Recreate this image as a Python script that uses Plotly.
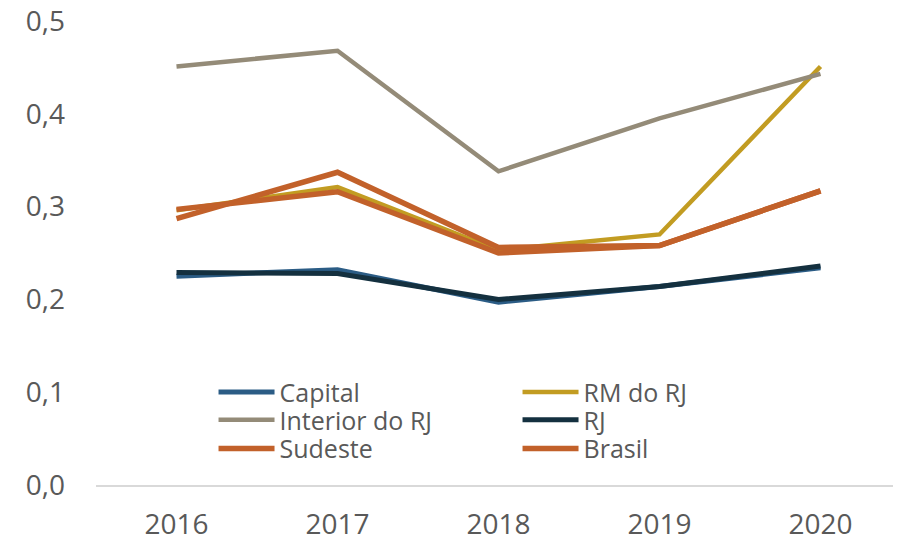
import plotly.graph_objects as go

years = ["2016", "2017", "2018", "2019", "2020"]
capital = [0.225, 0.232, 0.197, 0.214, 0.234]
rm_rj = [0.296, 0.321, 0.253, 0.270, 0.451]
interior = [0.451, 0.468, 0.338, 0.395, 0.443]
rj = [0.229, 0.228, 0.200, 0.214, 0.236]
sudeste = [0.287, 0.337, 0.256, 0.258, 0.317]
brasil = [0.297, 0.316, 0.250, 0.258, 0.317]
y_ticks = [0.0, 0.1, 0.2, 0.3, 0.4, 0.5]
y_tick_labels = ["0,0", "0,1", "0,2", "0,3", "0,4", "0,5"]

series = [
    ("Capital", capital, "#2B5C85", 5, "legend"),
    ("RM do RJ", rm_rj, "#C29C22", 4.5, "legend"),
    ("Interior do RJ", interior, "#948B78", 4.5, "legend2"),
    ("RJ", rj, "#14303F", 5, "legend2"),
    ("Sudeste", sudeste, "#C2612A", 5.5, "legend3"),
    ("Brasil", brasil, "#C2612A", 5.5, "legend3"),
]

fig = go.Figure()
for name, vals, color, w, lg in series:
    fig.add_trace(go.Scatter(x=years, y=vals, name=name, mode="lines",
                             line=dict(color=color, width=w), legend=lg))

font_family = "'Open Sans', sans-serif"
TXT = "#595959"


def leg(yc):
    return dict(orientation="h", x=0.146, y=yc, xanchor="left", yanchor="middle",
                entrywidth=233, entrywidthmode="pixels", itemwidth=56,
                font=dict(size=25, color=TXT, family=font_family),
                bgcolor="rgba(0,0,0,0)", traceorder="normal", borderwidth=0)


fig.update_layout(
    width=901, height=540,
    margin=dict(l=88, r=8, t=13, b=63),
    paper_bgcolor="white", plot_bgcolor="white",
    font=dict(family=font_family, color=TXT),
    showlegend=True,
    legend=leg(0.200),
    legend2=leg(0.140),
    legend3=leg(0.078),
    xaxis=dict(type="category", range=[-0.5, 4.5], showgrid=False, showline=True,
               linecolor="#D9D9D9", linewidth=1.5, ticks="",
               tickfont=dict(size=28, color=TXT), ticklabelstandoff=14,
               zeroline=False, automargin=False, ticklabeloverflow="allow"),
    yaxis=dict(range=[0, 0.5], tickvals=y_ticks, ticktext=y_tick_labels,
               showgrid=False, showline=False, zeroline=False, ticks="",
               tickfont=dict(size=28, color=TXT), ticklabelstandoff=30,
               automargin=False, ticklabeloverflow="allow"),
)
fig.write_html("out.html")
